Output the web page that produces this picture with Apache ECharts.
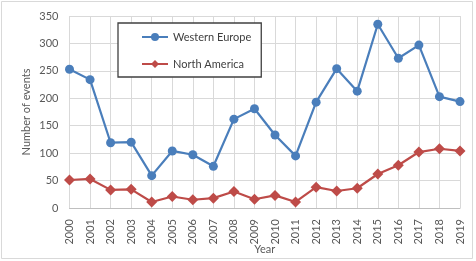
<!DOCTYPE html>
<html><head><meta charset="utf-8">
<script src="https://cdn.jsdelivr.net/npm/echarts@6/dist/echarts.min.js"></script>
<style>html,body{margin:0;padding:0;background:#fff}#c{width:476px;height:261px}</style>
</head><body><div id="c"></div>
<script>
const years = ['2000','2001','2002','2003','2004','2005','2006','2007','2008','2009','2010','2011','2012','2013','2014','2015','2016','2017','2018','2019'];
const westernEurope = [253,234,119,120,59,104,97,76,162,181,133,95,193,254,213,335,273,297,203,194];
const northAmerica = [51,53,33,34,11,21,15,18,30,16,23,11,38,31,36,62,78,102,108,104];
const seriesNames = ['Western Europe','North America'];

const FONT = 'Lato';
const chart = echarts.init(document.getElementById('c'), null, {renderer:'canvas'});
chart.setOption({
  animation:false,
  backgroundColor:'#fff',
  textStyle:{fontFamily:FONT},
  graphic:[{type:'rect',shape:{x:1.5,y:1.5,width:471,height:257},style:{fill:'none',stroke:'#d9d9d9',lineWidth:1},silent:true,z:-1}],
  grid:{left:69.5,right:16,top:16,bottom:53,containLabel:false,outerBoundsMode:'none'},
  legend:{
    orient:'vertical',left:118,top:23,width:146,height:53,
    padding:[7,10,6,23],itemGap:13,itemWidth:26,itemHeight:10,
    backgroundColor:'#fff',borderColor:'#404040',borderWidth:1.3,
    textStyle:{fontFamily:FONT,fontSize:11,color:'#404040',lineHeight:14},
    data:seriesNames
  },
  xAxis:{
    type:'category',data:years,boundaryGap:false,
    name:'Year',nameLocation:'middle',nameGap:36,nameMoveOverlap:false,
    nameTextStyle:{fontFamily:FONT,fontSize:11,color:'#595959'},
    axisLine:{lineStyle:{color:'#bfbfbf',width:1}},
    axisTick:{show:false},
    axisLabel:{rotate:90,margin:11,fontSize:11,color:'#595959',fontFamily:FONT,interval:0},
    splitLine:{show:true,lineStyle:{color:'#d9d9d9',width:1}}
  },
  yAxis:{
    type:'value',min:0,max:350,interval:50,
    name:'Number of events',nameLocation:'middle',nameGap:38,nameMoveOverlap:false,
    nameTextStyle:{fontFamily:FONT,fontSize:11,color:'#595959'},
    axisLine:{show:false},axisTick:{show:false},
    axisLabel:{margin:11,fontSize:11,color:'#595959',fontFamily:FONT},
    splitLine:{show:true,lineStyle:{color:'#d9d9d9',width:1}}
  },
  series:[
    {name:seriesNames[0],type:'line',data:westernEurope,symbol:'circle',symbolSize:9,
     lineStyle:{color:'#4a7ebb',width:2.2},itemStyle:{color:'#4a7ebb'}},
    {name:seriesNames[1],type:'line',data:northAmerica,symbol:'diamond',symbolSize:11,
     lineStyle:{color:'#be4b48',width:2.2},itemStyle:{color:'#be4b48'}}
  ]
});
</script></body></html>
